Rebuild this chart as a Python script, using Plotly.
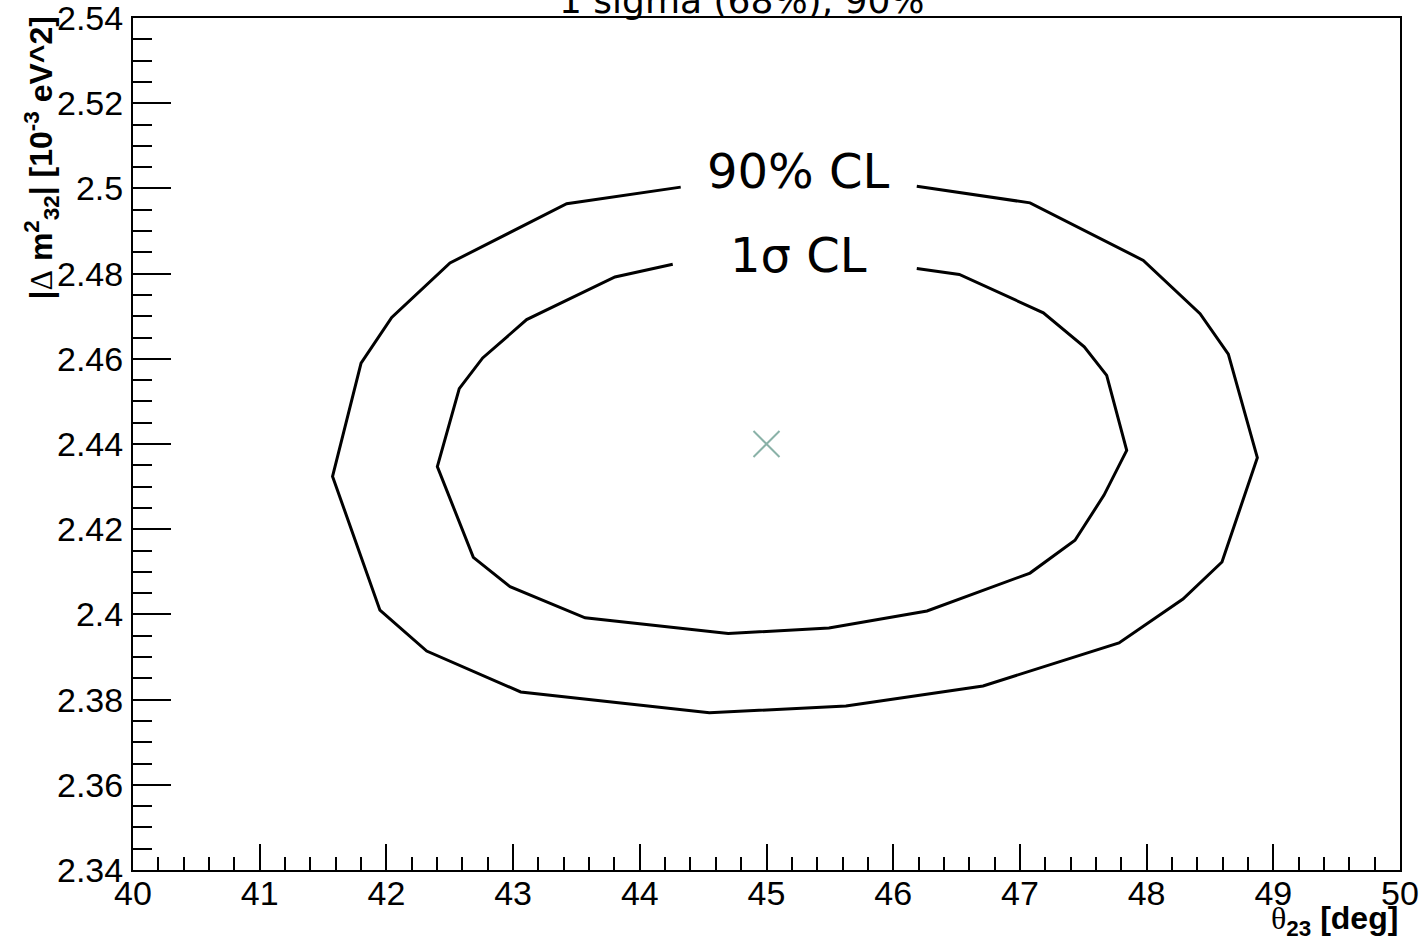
import plotly.graph_objects as go

# Confidence-level contours in the (theta23, |dm2_32|) plane
outer_theta = [44.323, 43.423, 42.502, 42.042, 41.800, 41.575, 41.949, 42.318, 43.060,
               44.549, 45.627, 46.709, 47.782, 48.287, 48.595, 48.874, 48.645, 48.422,
               47.974, 47.080, 46.186]
outer_dm2 = [2.5003, 2.4964, 2.4825, 2.4697, 2.4590, 2.4324, 2.4010, 2.3914, 2.3818,
             2.3769, 2.3785, 2.3832, 2.3933, 2.4036, 2.4123, 2.4368, 2.4611, 2.4706,
             2.4831, 2.4966, 2.5005]

inner_theta = [44.260, 43.804, 43.107, 42.760, 42.575, 42.402, 42.686, 42.976, 43.568,
               44.698, 45.493, 46.267, 47.080, 47.435, 47.664, 47.843, 47.685, 47.508,
               47.185, 46.522, 46.186]
inner_dm2 = [2.4822, 2.4792, 2.4692, 2.4602, 2.4530, 2.4347, 2.4134, 2.4065, 2.3992,
             2.3955, 2.3968, 2.4008, 2.4097, 2.4174, 2.4280, 2.4385, 2.4561, 2.4628,
             2.4708, 2.4798, 2.4812]

best_fit_theta = [45.0]
best_fit_dm2 = [2.44]

contour_labels = ["90% CL", "1σ CL"]
label_theta = [45.25, 45.25]
label_dm2 = [2.5042, 2.4844]

x_tickvals = [40, 41, 42, 43, 44, 45, 46, 47, 48, 49, 50]
x_ticktext = ["40", "41", "42", "43", "44", "45", "46", "47", "48", "49", "50"]
y_tickvals = [2.34, 2.36, 2.38, 2.40, 2.42, 2.44, 2.46, 2.48, 2.50, 2.52, 2.54]
y_ticktext = ["2.34", "2.36", "2.38", "2.4", "2.42", "2.44", "2.46", "2.48", "2.5", "2.52", "2.54"]

title_text = "1 sigma (68%), 90%"

fig = go.Figure()

fig.add_trace(go.Scatter(x=outer_theta, y=outer_dm2, mode="lines",
                         line=dict(color="black", width=3), showlegend=False))
fig.add_trace(go.Scatter(x=inner_theta, y=inner_dm2, mode="lines",
                         line=dict(color="black", width=3), showlegend=False))
fig.add_trace(go.Scatter(x=best_fit_theta, y=best_fit_dm2, mode="markers",
                         marker=dict(symbol="x-thin", size=26,
                                     line=dict(color="rgb(138,178,168)", width=2)),
                         showlegend=False))

for txt, lx, ly in zip(contour_labels, label_theta, label_dm2):
    fig.add_annotation(x=lx, y=ly, xref="x", yref="y", text=txt, showarrow=False,
                       font=dict(family="DejaVu Sans", size=48, color="black"),
                       xanchor="center", yanchor="middle")

serif = "font-family:Liberation Serif;font-weight:normal"

# plot title (sits mostly above the canvas edge)
fig.add_annotation(x=0.4807, y=1, xref="paper", yref="paper", text=title_text,
                   showarrow=False, xanchor="center", yanchor="bottom", yshift=-5,
                   font=dict(family="DejaVu Sans", size=36, color="black"))

# x-axis title, right-aligned under the axis end
fig.add_annotation(x=1, y=0, xref="paper", yref="paper",
                   text=f"<span style='{serif}'>θ</span><sub>23</sub> [deg]",
                   showarrow=False, xanchor="right", yanchor="top", yshift=-28,
                   font=dict(family="Liberation Sans", size=32, color="black", weight="bold"))

# y-axis title, top-aligned along the axis
fig.add_annotation(x=0, y=1, xref="paper", yref="paper",
                   text=f"|<span style='{serif}'>Δ</span> m<sup>2</sup><sub>32</sub>| [10<sup>-3</sup> eV^2]",
                   showarrow=False, textangle=-90, xanchor="center", yanchor="top",
                   xshift=-92, yshift=3,
                   font=dict(family="Liberation Sans", size=32, color="black", weight="bold"))

axis_common = dict(showgrid=False, zeroline=False, showline=True, linecolor="black",
                   linewidth=2, mirror=True, ticks="inside", tickcolor="black",
                   tickwidth=2, automargin=False, ticklabeloverflow="allow",
                   tickfont=dict(family="Liberation Sans", size=34, color="black"))

fig.update_xaxes(range=[40, 50], tickvals=x_tickvals, ticktext=x_ticktext, ticklen=26,
                 minor=dict(dtick=0.2, tick0=40, ticklen=13, tickwidth=2, tickcolor="black",
                            ticks="inside", showgrid=False),
                 ticklabelstandoff=-8, **axis_common)
fig.update_yaxes(range=[2.34, 2.54], tickvals=y_tickvals, ticktext=y_ticktext, ticklen=38,
                 minor=dict(dtick=0.005, tick0=2.34, ticklen=19, tickwidth=2, tickcolor="black",
                            ticks="inside", showgrid=False),
                 ticklabelstandoff=1, **axis_common)

fig.update_layout(width=1426, height=948, plot_bgcolor="white", paper_bgcolor="white",
                  margin=dict(l=133, r=26, t=17.5, b=78, pad=0, autoexpand=False))

fig.write_html("out.html")
